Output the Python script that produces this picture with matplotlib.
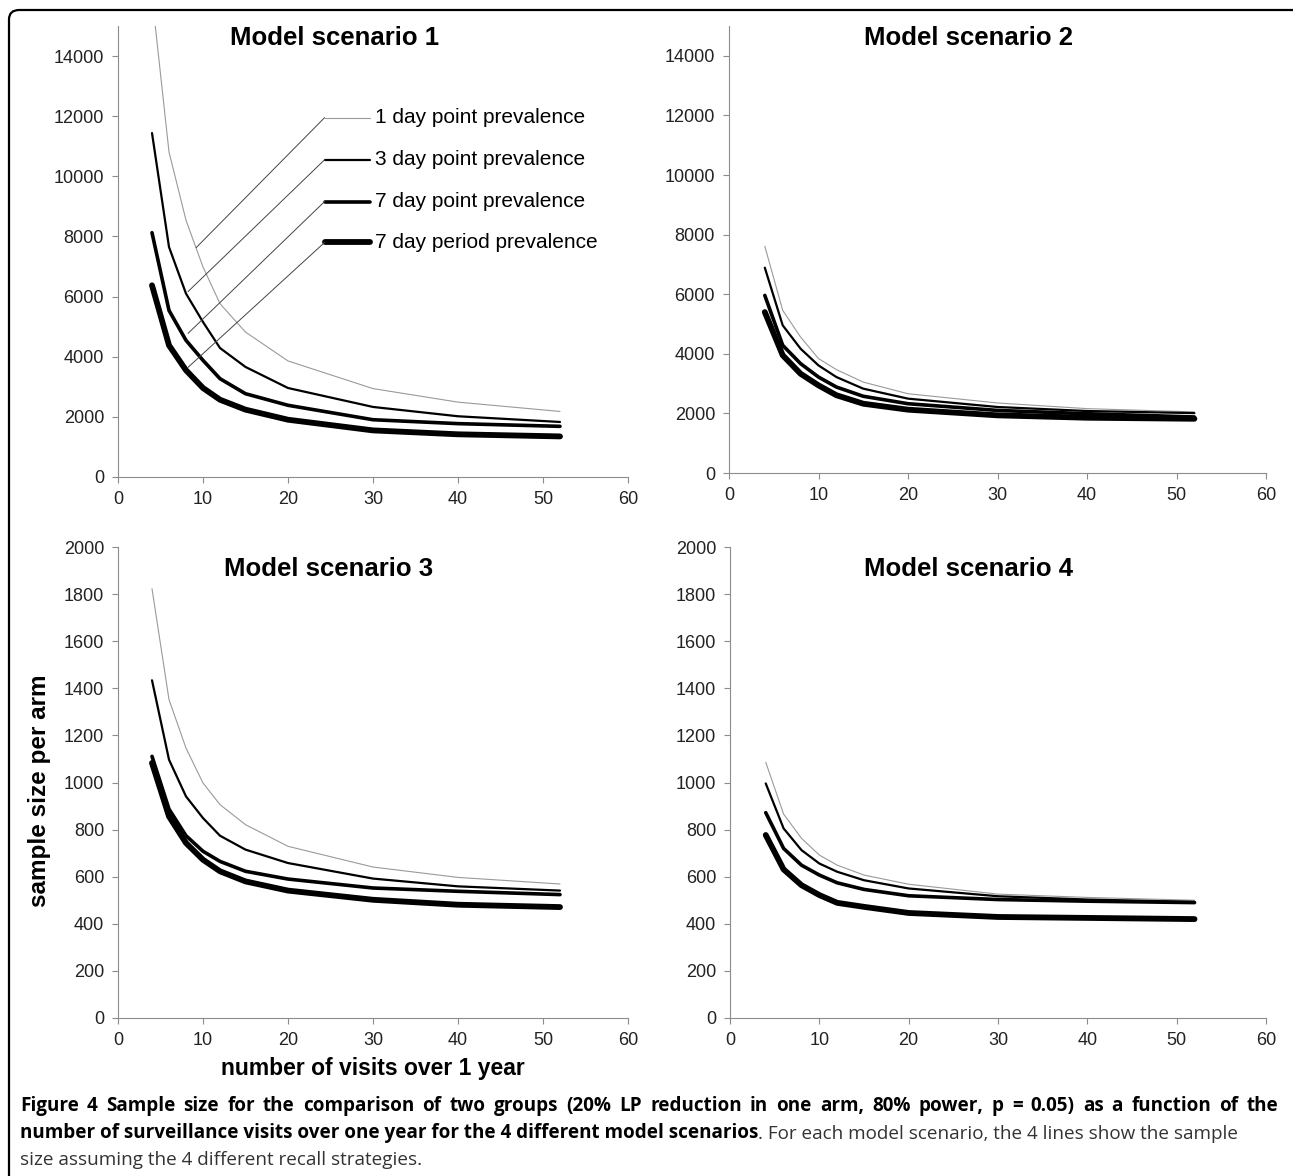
import matplotlib
matplotlib.use('Agg')
from matplotlib import pyplot as plt
from matplotlib.patches import FancyBboxPatch

W, H = 1293, 1176

# visits over one year
visits = [4, 6, 8, 10, 12, 15, 20, 30, 40, 52]

labels = ['1 day point prevalence', '3 day point prevalence',
          '7 day point prevalence', '7 day period prevalence']

# sample size per arm, one list per recall strategy
s1_day1 = [16000, 10810, 8540, 6985, 5765, 4820, 3860, 2940, 2490, 2180]
s1_day3 = [11440, 7650, 6100, 5155, 4290, 3660, 2960, 2330, 2020, 1830]
s1_day7 = [8125, 5540, 4545, 3880, 3270, 2770, 2385, 1905, 1775, 1685]
s1_per7 = [6375, 4380, 3550, 2960, 2570, 2240, 1905, 1550, 1420, 1350]

s2_day1 = [7610, 5460, 4560, 3840, 3470, 3050, 2660, 2350, 2160, 2050]
s2_day3 = [6890, 4955, 4170, 3610, 3220, 2830, 2495, 2215, 2080, 2010]
s2_day7 = [5960, 4285, 3670, 3220, 2885, 2575, 2325, 2100, 1990, 1880]
s2_per7 = [5400, 3950, 3330, 2940, 2610, 2325, 2125, 1935, 1855, 1820]

s3_day1 = [1823, 1352, 1146, 998, 906, 821, 729, 641, 597, 569]
s3_day3 = [1434, 1097, 941, 849, 774, 715, 658, 592, 559, 541]
s3_day7 = [1111, 887, 774, 708, 665, 623, 590, 552, 538, 524]
s3_per7 = [1083, 856, 743, 672, 623, 580, 541, 502, 481, 471]

s4_day1 = [1086, 866, 763, 692, 649, 607, 568, 526, 512, 500]
s4_day3 = [996, 805, 713, 656, 621, 585, 550, 517, 503, 493]
s4_day7 = [872, 720, 649, 607, 574, 546, 519, 503, 496, 490]
s4_per7 = [777, 631, 564, 522, 489, 472, 446, 429, 425, 420]

scenarios = [
    ('Model scenario 1', [s1_day1, s1_day3, s1_day7, s1_per7], 15000, 2000),
    ('Model scenario 2', [s2_day1, s2_day3, s2_day7, s2_per7], 15000, 2000),
    ('Model scenario 3', [s3_day1, s3_day3, s3_day7, s3_per7], 2000, 200),
    ('Model scenario 4', [s4_day1, s4_day3, s4_day7, s4_per7], 2000, 200),
]

line_styles = [dict(color='#9a9a9a', lw=0.8),
               dict(color='black', lw=1.6),
               dict(color='black', lw=2.6),
               dict(color='black', lw=4.2)]

# axes boxes in pixels: left, right, top, bottom
boxes = [(118, 628, 26, 477), (729, 1266, 26, 473),
         (118, 628, 547, 1018), (730, 1266, 547, 1018)]
title_pos = [(335, 38), (968, 38), (329, 569), (968, 569)]

plt.rcParams['font.family'] = ['Liberation Sans', 'DejaVu Sans']

fig = plt.figure(figsize=(W / 100, H / 100), dpi=100)

#Outer rounded frame, cut by the right and bottom edge of the picture
frame = FancyBboxPatch((9 / W, -0.05), 1.02 - 9 / W, 1.05 - 10 / H,
                       boxstyle='round,pad=0,rounding_size=0.008',
                       transform=fig.transFigure, fill=False, lw=1.6,
                       ec='black', clip_on=False)
fig.patches.append(frame)

axes = []
for (title, series, ymax, ystep), (l, r, t, b), (tx, ty) in zip(scenarios, boxes, title_pos):
    ax = fig.add_axes([l / W, 1 - b / H, (r - l) / W, (b - t) / H])
    for vals, st in zip(series, line_styles):
        ax.plot(visits, vals, solid_capstyle='round', solid_joinstyle='round', **st)
    ax.set_xlim(0, 60)
    ax.set_ylim(0, ymax)
    ax.set_xticks(range(0, 61, 10))
    ax.set_yticks(range(0, ymax if ymax == 15000 else ymax + 1, ystep))
    for side in ['top', 'right']:
        ax.spines[side].set_visible(False)
    for side in ['left', 'bottom']:
        ax.spines[side].set_color('#8c8c8c')
        ax.spines[side].set_linewidth(0.8)
    ax.tick_params(direction='out', length=4, width=0.8, color='#8c8c8c',
                   labelsize=13, labelcolor='#222222', pad=6)
    ax.patch.set_alpha(0)
    fig.text(tx / W, 1 - ty / H, title, ha='center', va='center',
             fontsize=18.5, fontweight='bold')
    axes.append(ax)

#Legend drawn as labelled leader lines in the first panel
ax = axes[0]
leg_y = [11950, 10550, 9160, 7800]
leg_end = [(9.2, 7630), (8.25, 6170), (8.25, 4780), (8.25, 3650)]
for lab, st, y, (ex, ey) in zip(labels, line_styles, leg_y, leg_end):
    ax.plot([24.3, 29.6], [y, y], solid_capstyle='round', **st)
    ax.plot([24.3, ex], [y, ey], color='#444444', lw=0.7)
    ax.text(30.2, y, lab, fontsize=15, va='center', ha='left')

fig.text(40 / W, 1 - 791 / H, 'sample size per arm', rotation=90,
         ha='center', va='center', fontsize=17.5, fontweight='bold')
fig.text(373 / W, 1 - 1068 / H, 'number of visits over 1 year',
         ha='center', va='center', fontsize=16.5, fontweight='bold')

#Caption
cap_font = ['Open Sans', 'DejaVu Sans']
cap_size = 13.6
cap1 = ('Figure 4 Sample size for the comparison of two groups (20% LP reduction '
        'in one arm, 80% power, p = 0.05) as a function of the')
cap2b = ('number of surveillance visits over one year for the 4 different '
         'model scenarios')
cap2r = '. For each model scenario, the 4 lines show the sample'
cap3 = 'size assuming the 4 different recall strategies.'

#First line is justified: place words one by one between the margins
renderer = fig.canvas.get_renderer()
words = cap1.split(' ')
word_texts = [fig.text(0, 1 - 1106 / H, w, family=cap_font, fontsize=cap_size,
                       fontweight='bold', va='center', ha='left') for w in words]
widths = [t.get_window_extent(renderer).width for t in word_texts]
x0, x1 = 20, 1278
gap = (x1 - x0 - sum(widths)) / (len(words) - 1)
x = x0
for t, wd in zip(word_texts, widths):
    t.set_x(x / W)
    x += wd + gap

tb = fig.text(20 / W, 1 - 1133 / H, cap2b, family=cap_font, fontsize=cap_size,
              fontweight='bold', va='center', ha='left')
ax.annotate(cap2r, xy=(1, 0), xycoords=tb, va='bottom', ha='left',
            family=cap_font, fontsize=cap_size, color='#333333',
            annotation_clip=False)
fig.text(20 / W, 1 - 1160 / H, cap3, family=cap_font, fontsize=cap_size,
         color='#333333', va='center', ha='left')

plt.savefig('out.png', dpi=100)
